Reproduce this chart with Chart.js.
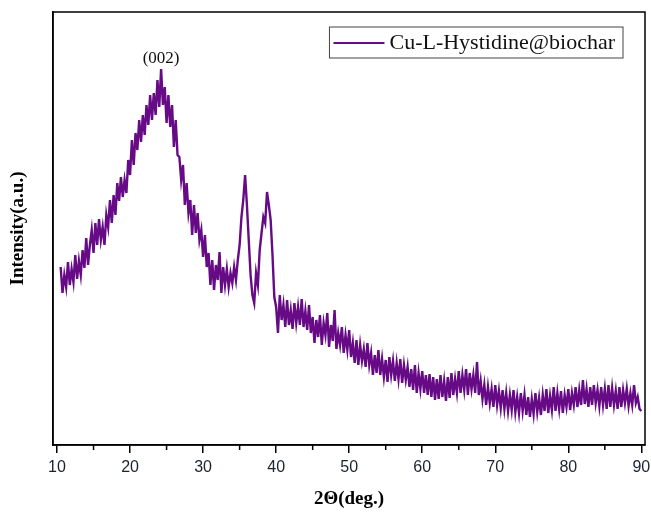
<!DOCTYPE html>
<html>
<head>
<meta charset="utf-8">
<script src="https://cdn.jsdelivr.net/npm/chart.js@4"></script>
<style>
  body { margin: 0; background: #fff; }
  canvas { display: block; }
</style>
</head>
<body>
<canvas id="xrd" width="651" height="514"></canvas>
<script>
// scan: 2theta from 10.5 deg in 0.25 deg steps
const thetaStart = 10.5;
const thetaStep = 0.25;

// intensity (a.u.)
const intensity = [
  178, 152,
  170, 158, 183, 160,   // 11
  176, 163, 190, 166,   // 12
  184, 170, 195, 177,   // 13
  207, 180, 200, 215,   // 14
  192, 222, 200, 226,   // 15
  205, 218, 200, 230,   // 16
  218, 245, 222, 250,   // 17
  230, 262, 244, 268,   // 18
  248, 265, 252, 285,   // 19
  270, 305, 280, 312,   // 20
  295, 325, 303, 330,   // 21
  310, 340, 320, 350,   // 22
  325, 352, 330, 365,   // 23
  338, 376, 340, 358,   // 24
  322, 350, 318, 340,   // 25
  298, 325, 290, 288,   // 26
  265, 280, 240, 262,   // 27
  232, 245, 210, 240,   // 28
  212, 232, 205, 215,   // 29
  188, 210, 178, 192,   // 30
  160, 185, 155, 180,   // 31
  165, 193, 152, 178,   // 32
  160, 176, 158, 172,   // 33
  162, 178, 165, 185,   // 34
  200, 228, 245, 270,   // 35
  240, 205, 170, 150,   // 36
  142, 172, 160, 195,   // 37
  212, 228, 222, 253,   // 38
  240, 225, 190, 148,   // 39
  138, 112, 150, 125,   // 40
  140, 118, 145, 120,   // 41
  135, 116, 142, 122,   // 42
  138, 120, 146, 118,   // 43
  134, 115, 140, 112,   // 44
  128, 102, 125, 108,   // 45
  130, 100, 122, 110,   // 46
  132, 98, 120, 104,    // 47
  135, 96, 112, 100,    // 48
  118, 92, 110, 95,     // 49
  115, 88, 102, 82,     // 50
  105, 80, 100, 84,     // 51
  96, 78, 102, 80,      // 52
  92, 70, 90, 72,       // 53
  95, 70, 86, 68,       // 54
  85, 63, 88, 70,       // 55
  84, 64, 82, 66,       // 56
  86, 62, 80, 65,       // 57
  78, 58, 76, 55,       // 58
  80, 52, 72, 56,       // 59
  74, 52, 70, 50,       // 60
  71, 48, 68, 45,       // 61
  66, 46, 70, 48,       // 62
  64, 44, 68, 47,       // 63
  72, 50, 66, 52,       // 64
  74, 52, 70, 55,       // 65
  76, 50, 72, 56,       // 66
  70, 52, 83, 50,       // 67
  64, 46, 60, 40,       // 68
  58, 42, 56, 38,       // 69
  60, 40, 54, 37,       // 70
  55, 36, 52, 34,       // 71
  50, 35, 55, 33,       // 72
  48, 32, 52, 34,       // 73
  50, 30, 48, 28,       // 74
  46, 31, 52, 33,       // 75
  47, 30, 50, 34,       // 76
  56, 32, 49, 35,       // 77
  58, 34, 52, 36,       // 78
  54, 32, 50, 38,       // 79
  56, 35, 52, 40,       // 80
  58, 38, 55, 40,       // 81
  65, 41, 56, 38,       // 82
  58, 40, 60, 42,       // 83
  55, 39, 58, 40,       // 84
  56, 36, 60, 38,       // 85
  57, 40, 54, 36,       // 86
  58, 38, 55, 42,       // 87
  56, 39, 52, 40,       // 88
  60, 42, 48, 36,       // 89
  34                    // 90
];

const xTicks = [10, 20, 30, 40, 50, 60, 70, 80, 90];
const xMinorTicks = [15, 25, 35, 45, 55, 65, 75, 85];
const seriesLabel = "Cu-L-Hystidine@biochar";
const peakLabel = "(002)";

const points = intensity.map((v, i) => ({ x: thetaStart + i * thetaStep, y: v }));

const extras = {
  id: "extras",
  afterDraw(chart) {
    const { ctx, chartArea: a, scales: { x, y } } = chart;
    ctx.save();

    // frame round the plot
    ctx.strokeStyle = "#000";
    ctx.lineWidth = 1.5;
    ctx.strokeRect(a.left, a.top, a.right - a.left, a.bottom - a.top);

    // minor ticks
    ctx.beginPath();
    xMinorTicks.forEach((v) => {
      const px = x.getPixelForValue(v);
      ctx.moveTo(px, a.bottom);
      ctx.lineTo(px, a.bottom + 5);
    });
    ctx.stroke();

    // peak label
    const ds = chart.data.datasets[0];
    const top = ds.data.reduce((m, p) => (p.y > m.y ? p : m));
    ctx.font = "17px 'Liberation Serif'";
    ctx.fillStyle = "#111";
    ctx.textAlign = "center";
    ctx.textBaseline = "bottom";
    ctx.fillText(peakLabel, x.getPixelForValue(top.x), y.getPixelForValue(top.y) - 2);

    // legend box
    ctx.font = "22px 'Liberation Serif'";
    const tw = ctx.measureText(ds.label).width;
    const right = a.right - 22;
    const left = right - (tw + 68);
    const boxTop = a.top + 15;
    ctx.lineWidth = 1;
    ctx.strokeStyle = "#444";
    ctx.strokeRect(left, boxTop, right - left, 31);
    ctx.strokeStyle = ds.borderColor;
    ctx.lineWidth = 2;
    ctx.beginPath();
    ctx.moveTo(left + 4, boxTop + 16);
    ctx.lineTo(left + 55, boxTop + 16);
    ctx.stroke();
    ctx.fillStyle = "#111";
    ctx.textAlign = "left";
    ctx.textBaseline = "middle";
    ctx.fillText(ds.label, left + 60, boxTop + 16);
    ctx.restore();
  }
};

new Chart(document.getElementById("xrd"), {
  type: "line",
  data: {
    datasets: [
      {
        label: seriesLabel,
        data: points,
        borderColor: "#660a86",
        borderWidth: 2.4,
        pointRadius: 0,
        tension: 0,
      },
    ],
  },
  options: {
    responsive: false,
    animation: false,
    layout: { padding: { top: 12, right: 6, left: 0, bottom: 0 } },
    plugins: { legend: { display: false }, tooltip: { enabled: false } },
    scales: {
      x: {
        type: "linear",
        min: 9.45,
        max: 90.5,
        afterBuildTicks: (s) => { s.ticks = xTicks.map((v) => ({ value: v })); },
        afterFit: (s) => {
          s.height = 69;
          s.paddingLeft = 0;
          s.paddingRight = 0;
        },
        grid: { drawOnChartArea: false, tickLength: 8, color: "#000", lineWidth: 1.5 },
        border: { color: "#000", width: 1.5 },
        ticks: {
          padding: 5,
          color: "#1d2230",
          font: { family: "'Liberation Sans'", size: 16 },
          maxRotation: 0,
        },
        title: {
          display: true,
          text: "2\u0398(deg.)",
          color: "#000",
          font: { family: "'Liberation Serif'", size: 19, weight: "bold" },
        },
      },
      y: {
        min: 0,
        max: 433,
        afterFit: (s) => { s.width = 53; },
        grid: { display: false },
        border: { color: "#000", width: 1.5 },
        ticks: { display: false },
        title: {
          display: true,
          text: "Intensity(a.u.)",
          color: "#000",
          padding: { top: 7, bottom: 4 },
          font: { family: "'Liberation Serif'", size: 19, weight: "bold" },
        },
      },
    },
  },
  plugins: [extras],
});
</script>
</body>
</html>
